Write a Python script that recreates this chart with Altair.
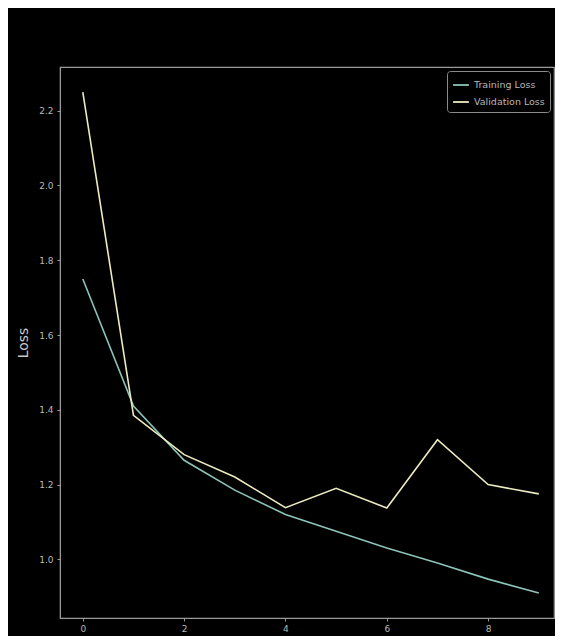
import altair as alt
import pandas as pd

epochs = [0, 1, 2, 3, 4, 5, 6, 7, 8, 9]
training_loss = [1.75, 1.41, 1.265, 1.185, 1.12, 1.075, 1.03, 0.99, 0.947, 0.91]
validation_loss = [2.25, 1.385, 1.28, 1.22, 1.138, 1.19, 1.137, 1.32, 1.20, 1.175]
series_names = ["Training Loss", "Validation Loss"]
series_colors = ["#8cc4ba", "#ecebc0"]
x_ticks = [0, 2, 4, 6, 8]
y_ticks = [1.0, 1.2, 1.4, 1.6, 1.8, 2.0, 2.2]

df = pd.concat([
    pd.DataFrame({"epoch": epochs, "loss": training_loss, "series": series_names[0]}),
    pd.DataFrame({"epoch": epochs, "loss": validation_loss, "series": series_names[1]}),
])

txt = "#b8b8b8"
font = "DejaVu Sans"

chart = alt.Chart(df).mark_line(strokeWidth=1.6).encode(
    x=alt.X("epoch:Q",
            scale=alt.Scale(domain=[-0.45, 9.3], nice=False, zero=False),
            axis=alt.Axis(values=x_ticks, title=None, format="d", grid=False,
                          domainColor="#9a9a9a", tickColor="#9a9a9a", tickSize=3,
                          labelColor=txt, labelFontSize=9, labelFont=font, labelPadding=3)),
    y=alt.Y("loss:Q",
            scale=alt.Scale(domain=[0.843, 2.317], nice=False, zero=False),
            axis=alt.Axis(values=y_ticks, title="Loss", format=".1f", grid=False,
                          domainColor="#9a9a9a", tickColor="#9a9a9a", tickSize=3,
                          labelColor=txt, labelFontSize=9, labelFont=font, labelPadding=4,
                          titleColor="#c8c8c8", titleFontSize=14, titleFont=font,
                          titleFontWeight="normal", titlePadding=8)),
    color=alt.Color("series:N",
                    scale=alt.Scale(domain=series_names, range=series_colors),
                    legend=alt.Legend(title=None, orient="top-right", offset=4,
                                      fillColor="#000000", strokeColor="#8a8a8a",
                                      cornerRadius=3, padding=5,
                                      symbolType="stroke", symbolStrokeWidth=1.8,
                                      symbolSize=250, labelColor=txt,
                                      labelFontSize=9.5, labelFont=font, rowPadding=3)),
).properties(
    width=494,
    height=551,
    background="#000000",
    autosize=alt.AutoSizeParams(type="none"),
    padding={"left": 52, "top": 59, "right": 1, "bottom": 18},
).configure_view(
    stroke="#9a9a9a",
    strokeWidth=1.2,
)

chart.save("out.html", embed_options={"renderer": "svg", "actions": False})
